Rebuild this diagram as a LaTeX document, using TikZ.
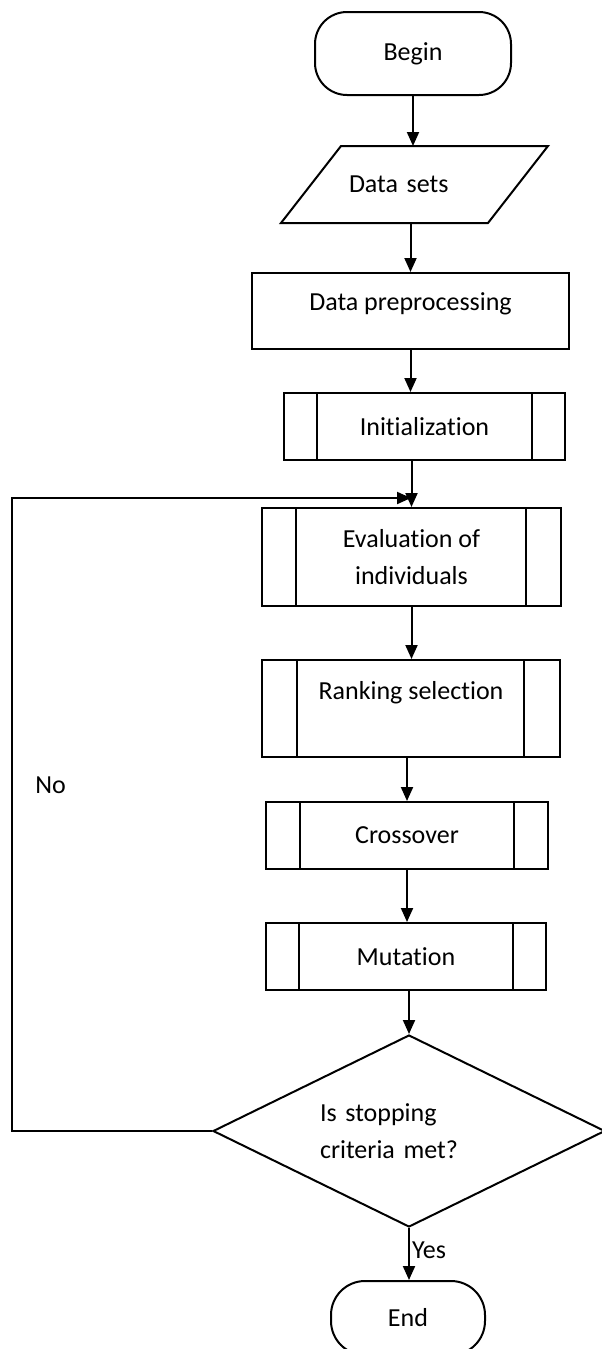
\documentclass[tikz,border=0pt]{standalone}
\usepackage{fontspec}
\setmainfont{Carlito}[Ligatures=NoCommon]
\usetikzlibrary{shapes.geometric}
\usetikzlibrary{arrows.meta}
\tikzset{every node/.style={font=\fontsize{26}{37}\selectfont},
 term/.style={draw, rounded corners=32pt, inner sep=0pt},
 proc/.style={draw, inner sep=0pt, align=center},
 decision/.style={draw, diamond, aspect=2, inner sep=0pt,
   minimum width=392pt, minimum height=192pt},
 arr/.style={-{Triangle[length=14pt,width=12pt]}},
 }

\begin{document}
\begin{tikzpicture}[x=1pt, y=-1pt, line width=2pt]
        \useasboundingbox (0,0) rectangle (602,1349);
        % start and data
        \node[term, minimum width=196pt, minimum height=83pt] (begin) at (413,53.5) {Begin};
        \node[minimum width=205pt, minimum height=75pt, inner sep=0pt,
              text width=131pt, align=left] (data) at (414.5,184.5) {Data sets};
        \draw ([xshift=30pt]data.north west) -- ([xshift=30pt]data.north east)
            -- ([xshift=-30pt]data.south east) -- ([xshift=-30pt]data.south west) -- cycle;
        \node[proc, minimum width=317pt, minimum height=76pt] (prep) at (410.5,311) {Data preprocessing\\[-19pt]~};
        % sub-processes
        \node[proc, minimum width=281pt, minimum height=67pt] (init) at (424.5,426.5) {Initialization};
        \node[proc, minimum width=299pt, minimum height=98pt] (eval) at (411.5,557) {Evaluation of\\individuals};
        \node[proc, minimum width=298pt, minimum height=97pt] (rank) at (411,708.5) {Ranking selection\\~};
        \node[proc, minimum width=282pt, minimum height=67pt] (cross) at (407,835.5) {Crossover};
        \node[proc, minimum width=280pt, minimum height=67pt] (mut) at (406,956.5) {Mutation};
        \draw ([xshift=34pt]init.north west) -- ([xshift=34pt]init.south west);
        \draw ([xshift=-34pt]init.north east) -- ([xshift=-34pt]init.south east);
        \draw ([xshift=35pt]eval.north west) -- ([xshift=35pt]eval.south west);
        \draw ([xshift=-36pt]eval.north east) -- ([xshift=-36pt]eval.south east);
        \draw ([xshift=36pt]rank.north west) -- ([xshift=36pt]rank.south west);
        \draw ([xshift=-37pt]rank.north east) -- ([xshift=-37pt]rank.south east);
        \draw ([xshift=35pt]cross.north west) -- ([xshift=35pt]cross.south west);
        \draw ([xshift=-35pt]cross.north east) -- ([xshift=-35pt]cross.south east);
        \draw ([xshift=34pt]mut.north west) -- ([xshift=34pt]mut.south west);
        \draw ([xshift=-34pt]mut.north east) -- ([xshift=-34pt]mut.south east);
        % test and end
        \node[decision, text width=178pt, align=left] (test) at (409,1131) {Is stopping\\criteria met?};
        \node[term, rounded corners=34pt, minimum width=154pt, minimum height=74pt] (end) at (408,1318) {End};
        % flow
        \draw[arr] (begin) -- (begin |- data.north);
        \draw[arr] (data.south -| prep) -- (prep.north);
        \draw[arr] (prep) -- (prep |- init.north);
        \draw[arr] (init.south -| eval) -- (eval.north);
        \draw[arr] (eval) -- (eval |- rank.north);
        \draw[arr] (rank.south -| cross) -- (cross.north);
        \draw[arr] (cross) -- (cross |- mut.north);
        \draw[arr] (mut.south -| test.north) -- (test.north);
        \draw[arr] (test.south) -- node[pos=.42, anchor=west, inner sep=2pt] (yes) {Yes} (test.south |- end.north);
        % loop back
        \coordinate (back) at (12,498);
        \coordinate (loopin) at (411,498);
        \draw[arr] (test.west) -| (back) -- (loopin);
        \node[anchor=west] (no) at (31,785) {No};
    \end{tikzpicture}
\end{document}
